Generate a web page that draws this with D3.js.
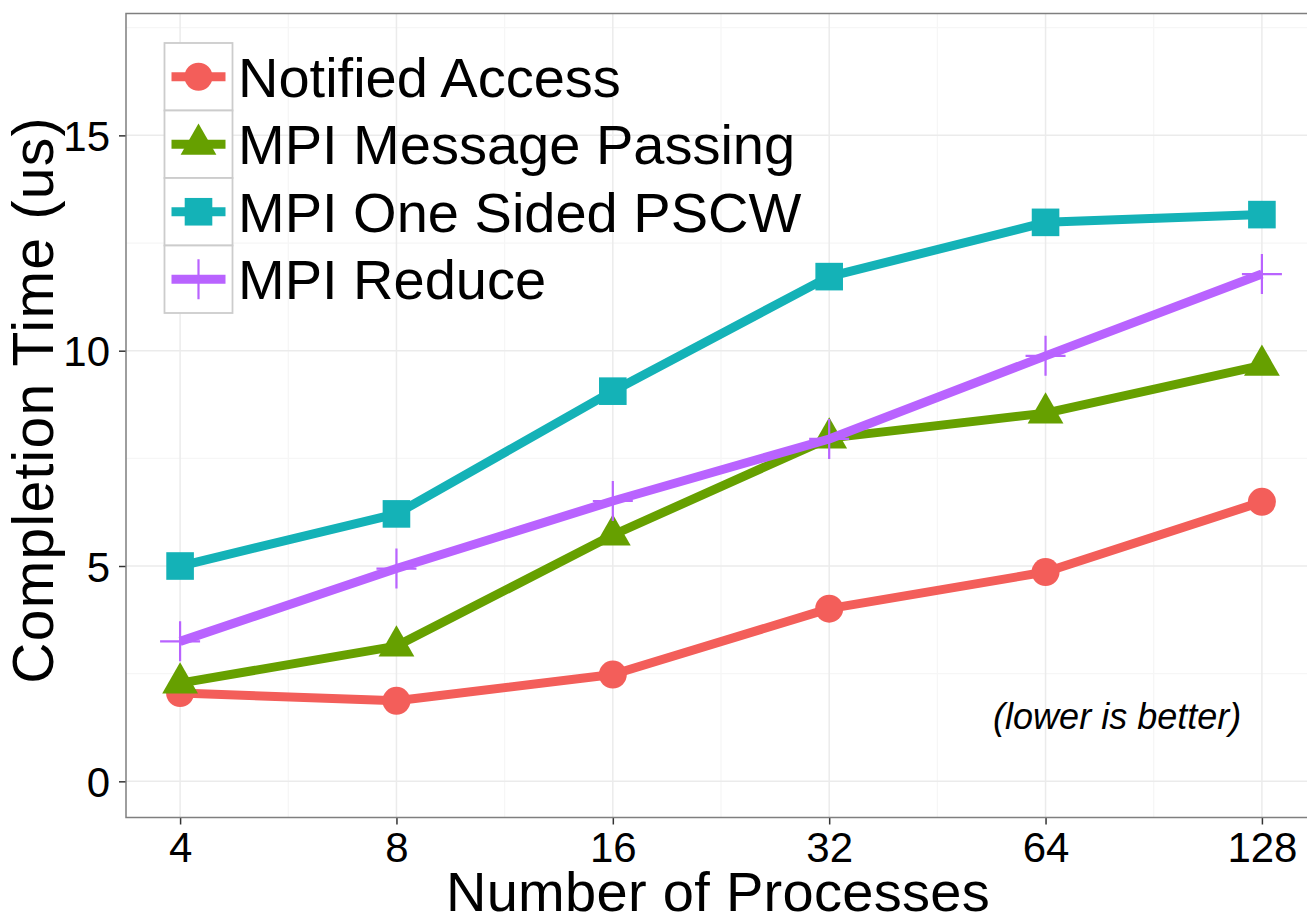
<!DOCTYPE html>
<html><head><meta charset="utf-8">
<script src="https://cdn.jsdelivr.net/npm/d3@7"></script>
<style>body{margin:0;background:#fff;} svg{display:block;font-family:"Liberation Sans",Arial,Helvetica,sans-serif;}</style>
</head><body><svg id="c" width="1307" height="914"></svg>
<script>
const processes = [4, 8, 16, 32, 64, 128];
const seriesNames = ["Notified Access", "MPI Message Passing", "MPI One Sided PSCW", "MPI Reduce"];
const notifiedAccess = [2.05, 1.87, 2.48, 4.01, 4.86, 6.49];
const mpiMessagePassing = [2.28, 3.14, 5.72, 7.97, 8.55, 9.66];
const mpiOneSided = [5.0, 6.21, 9.06, 11.72, 12.98, 13.16];
const mpiReduce = [3.25, 4.94, 6.51, 7.95, 9.88, 11.78];
const yTicks = [0, 5, 10, 15];
const xTickLabels = ["4", "8", "16", "32", "64", "128"];
const colors = ["#F35E5A", "#66A000", "#14B2B7", "#B963FF"];
const shapes = ["circle", "triangle", "square", "plus"];
const note = "(lower is better)";

const values = [notifiedAccess, mpiMessagePassing, mpiOneSided, mpiReduce];
const svg = d3.select("#c");
const L = 126, R = 1316, T = 13.5, B = 817.5;

const x = d3.scaleLog().base(2).domain([Math.pow(2, 1.75), Math.pow(2, 7.25)]).range([L, R]);
const y = d3.scaleLinear().domain([-0.84, 17.83]).range([B, T]);

svg.append("rect").attr("x", 0).attr("y", 0).attr("width", 1307).attr("height", 914).attr("fill", "#fff");

// minor grid
const g = svg.append("g");
const minorY = [2.5, 7.5, 12.5, 17.5];
g.selectAll(".mny").data(minorY).enter().append("line")
  .attr("x1", L).attr("x2", R).attr("y1", d => y(d)).attr("y2", d => y(d))
  .attr("stroke", "#f6f6f6").attr("stroke-width", 1.3);
const minorX = processes.slice(0, -1).map(p => p * Math.SQRT2);
g.selectAll(".mnx").data(minorX).enter().append("line")
  .attr("y1", T).attr("y2", B).attr("x1", d => x(d)).attr("x2", d => x(d))
  .attr("stroke", "#f6f6f6").attr("stroke-width", 1.3);
// major grid
g.selectAll(".mjy").data(yTicks).enter().append("line")
  .attr("x1", L).attr("x2", R).attr("y1", d => y(d)).attr("y2", d => y(d))
  .attr("stroke", "#ebebeb").attr("stroke-width", 1.5);
g.selectAll(".mjx").data(processes).enter().append("line")
  .attr("y1", T).attr("y2", B).attr("x1", d => x(d)).attr("x2", d => x(d))
  .attr("stroke", "#ebebeb").attr("stroke-width", 1.5);

// axes
const xAxis = d3.axisBottom(x).tickValues(processes).tickFormat((d, i) => xTickLabels[i]).tickSize(7).tickPadding(8);
const yAxis = d3.axisLeft(y).tickValues(yTicks).tickSize(7).tickPadding(9);
const gx = svg.append("g").attr("transform", `translate(0,${B})`).call(xAxis);
const gy = svg.append("g").attr("transform", `translate(${L},0)`).call(yAxis);
[gx, gy].forEach(a => {
  a.select(".domain").remove();
  a.selectAll(".tick line").attr("stroke", "#333").attr("stroke-width", 1.5);
  a.selectAll(".tick text").attr("fill", "#000").style("font-size", "42px")
    .style("font-family", '"Liberation Sans",Arial,sans-serif');
});
gx.selectAll(".tick text").attr("dy", "0.71em");
gy.selectAll(".tick text").attr("dy", "0.36em");

// panel border
svg.append("rect").attr("x", L).attr("y", T).attr("width", R - L).attr("height", B - T)
  .attr("fill", "none").attr("stroke", "#7f7f7f").attr("stroke-width", 1.5);

function drawShape(sel, shape, color, s) {
  if (shape === "circle") {
    sel.append("circle").attr("r", 14 * s).attr("fill", color);
  } else if (shape === "triangle") {
    const r = 20.8 * s, xc = 17.9 * s;
    sel.append("path").attr("d", `M0,${-r}L${xc},${r / 2}L${-xc},${r / 2}Z`).attr("fill", color);
  } else if (shape === "square") {
    const h = 13.8 * s;
    sel.append("rect").attr("x", -h).attr("y", -h).attr("width", 2 * h).attr("height", 2 * h).attr("fill", color);
  } else {
    const h = 20 * s;
    sel.append("path").attr("d", `M${-h},0H${h}M0,${-h}V${h}`).attr("stroke", color).attr("stroke-width", 2.2).attr("fill", "none");
  }
}

const line = d3.line().x(d => x(d[0])).y(d => y(d[1]));
values.forEach((vals, si) => {
  const pts = processes.map((p, i) => [p, vals[i]]);
  svg.append("path").datum(pts).attr("d", line).attr("fill", "none")
    .attr("stroke", colors[si]).attr("stroke-width", 9).attr("stroke-linejoin", "round");
  pts.forEach(p => {
    const gp = svg.append("g").attr("transform", `translate(${x(p[0])},${y(p[1])})`);
    drawShape(gp, shapes[si], colors[si], 1);
  });
});

// annotation
svg.append("text").attr("x", x(80.5)).attr("y", y(1.5)).attr("text-anchor", "middle")
  .attr("dominant-baseline", "central").style("font-size", "36px").style("font-style", "italic")
  .attr("fill", "#000").text(note);

// legend
const lg = svg.append("g");
const kx = 164.5, ky = 43, kw = 68, kh = 67.5;
seriesNames.forEach((name, i) => {
  const top = ky + i * kh;
  lg.append("rect").attr("x", kx).attr("y", top).attr("width", kw).attr("height", kh)
    .attr("fill", "#fff").attr("stroke", "#cccccc").attr("stroke-width", 1.8);
  const cy = top + kh / 2;
  lg.append("line").attr("x1", kx + 7).attr("x2", kx + kw - 7).attr("y1", cy).attr("y2", cy)
    .attr("stroke", colors[i]).attr("stroke-width", 9);
  const gp = lg.append("g").attr("transform", `translate(${kx + kw / 2},${cy})`);
  drawShape(gp, shapes[i], colors[i], 1);
  lg.append("text").attr("x", 238).attr("y", cy).attr("dy", "0.36em")
    .style("font-size", "56px").attr("fill", "#000").text(name);
});

// axis titles
svg.append("text").attr("x", 718).attr("y", 911).attr("text-anchor", "middle")
  .style("font-size", "56px").style("letter-spacing", "0.3px").attr("fill", "#000").text("Number of Processes");
svg.append("text").attr("transform", `translate(53,400) rotate(-90)`).attr("text-anchor", "middle")
  .style("font-size", "57px").style("letter-spacing", "1.3px").attr("fill", "#000").text("Completion Time (us)");
</script></body></html>
